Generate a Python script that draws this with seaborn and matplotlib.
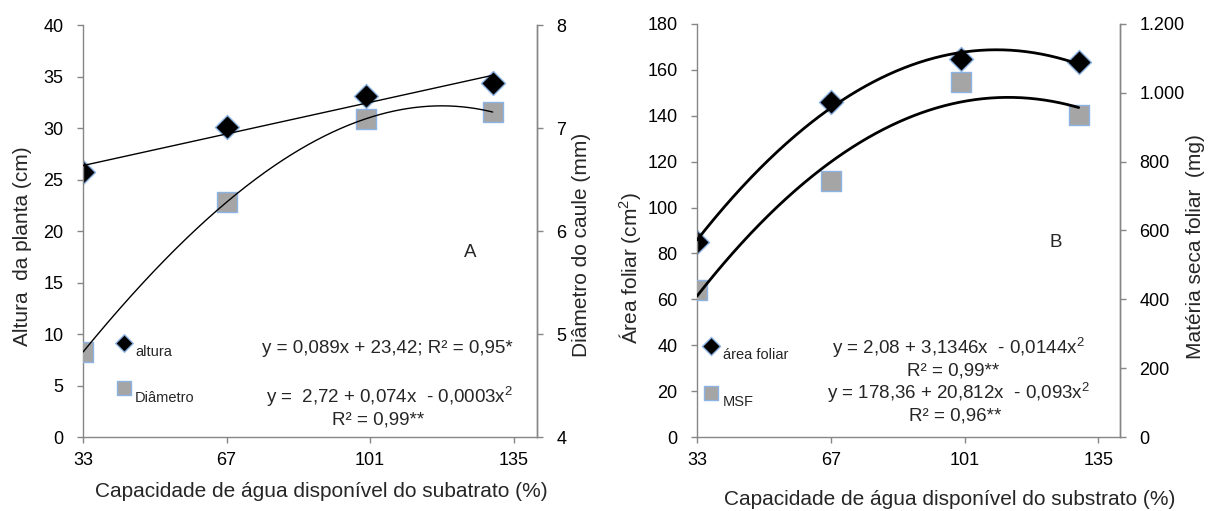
import numpy as np
import pandas as pd
import matplotlib
matplotlib.use("Agg")
import matplotlib.pyplot as plt
import seaborn as sns
from matplotlib.ticker import FuncFormatter

# ---------------- data ----------------
x_water = [33, 67, 100, 130]
altura = [25.7, 30.1, 33.1, 34.4]          # cm, left axis panel A
diametro = [4.825, 6.28, 7.09, 7.155]      # mm, right axis panel A
area_foliar = [85.0, 146.0, 164.8, 163.5]  # cm2, left axis panel B
msf = [427, 744, 1032, 936]                # mg, right axis panel B

x_ticks = [33, 67, 101, 135]
a_left_ticks = [0, 5, 10, 15, 20, 25, 30, 35, 40]
a_right_ticks = [4, 5, 6, 7, 8]
b_left_ticks = [0, 20, 40, 60, 80, 100, 120, 140, 160, 180]
b_right_ticks = [0, 200, 400, 600, 800, 1000, 1200]

# ---------------- style ----------------
sns.set_style("white")
plt.rcParams["font.family"] = ["Liberation Sans", "DejaVu Sans"]
plt.rcParams["mathtext.fontset"] = "custom"
plt.rcParams["mathtext.rm"] = "Liberation Sans"
plt.rcParams["mathtext.it"] = "Liberation Sans:italic"

GRAY_SPINE = "#868686"
EDGE_BLUE = "#8db3e2"
SQ_GRAY = "#a5a5a5"
FS_TICK = 13
FS_LAB = 15
FS_EQ = 13.5
FS_LEG = 10.5

W, H = 1208, 511


def fit_curve(x, y, deg):
    c = np.polyfit(x, y, deg)
    xs = np.linspace(min(x), max(x), 300)
    return pd.DataFrame({"x": xs, "y": np.polyval(c, xs)})


def style_axes(ax, ax2, xlim):
    ax.set_xlim(*xlim)
    for a in (ax, ax2):
        a.spines["top"].set_visible(False)
        for s in ("left", "right", "bottom"):
            a.spines[s].set_color(GRAY_SPINE)
            a.spines[s].set_linewidth(1.0)
        a.tick_params(axis="both", colors="black", labelsize=FS_TICK, length=4,
                      width=1, color=GRAY_SPINE, direction="out")
        a.grid(False)
    ax.tick_params(axis="y", pad=10, left=True)
    ax.tick_params(axis="x", pad=7, bottom=True)
    ax2.tick_params(axis="y", pad=10, right=True)
    ax2.spines["left"].set_visible(False)
    ax2.spines["bottom"].set_visible(False)


fig = plt.figure(figsize=(W / 100, H / 100), dpi=100)
axA = fig.add_axes([83 / W, 1 - 437 / H, 454 / W, 412 / H])
axA2 = axA.twinx()
axB = fig.add_axes([697 / W, 1 - 437 / H, 423 / W, 413 / H])
axB2 = axB.twinx()

xlim = (33, 140.5)

# ---------------- Panel A ----------------
fitA1 = fit_curve(x_water, altura, 1)
fitA2 = fit_curve(x_water, diametro, 3)

sns.scatterplot(x=x_water, y=altura, marker="D", s=150, color="black",
                edgecolor=EDGE_BLUE, linewidth=1, ax=axA, zorder=2, legend=False)
sns.lineplot(data=fitA1, x="x", y="y", color="black", lw=1.0, ax=axA, zorder=3)
sns.scatterplot(x=x_water, y=diametro, marker="s", s=200, color=SQ_GRAY,
                edgecolor=EDGE_BLUE, linewidth=1, ax=axA2, zorder=2, legend=False)
sns.lineplot(data=fitA2, x="x", y="y", color="black", lw=1.0, ax=axA2, zorder=3)

axA.set_ylim(0, 40)
axA.set_yticks(a_left_ticks)
axA2.set_ylim(4, 8)
axA2.set_yticks(a_right_ticks)
axA.set_xticks(x_ticks)
style_axes(axA, axA2, xlim)

axA.set_xlabel("Capacidade de água disponível do subatrato (%)", fontsize=FS_LAB)
axA.xaxis.set_label_coords(0.524, -0.11)
axA.set_ylabel("Altura  da planta (cm)", fontsize=FS_LAB)
axA.yaxis.set_label_coords(-0.112, 0.464)
axA2.set_ylabel("Diâmetro do caule (mm)", fontsize=FS_LAB)
axA2.yaxis.set_label_coords(1.077, 0.466)

# legend / annotations A
tA = axA.transAxes
axA.scatter([0.0903], [0.228], marker="D", s=80, color="black",
            edgecolor=EDGE_BLUE, linewidth=1, transform=tA, clip_on=False, zorder=5)
axA.text(0.1145, 0.206, "altura", fontsize=FS_LEG, transform=tA, va="center", ha="left")
axA.scatter([0.0903], [0.119], marker="s", s=100, color=SQ_GRAY,
            edgecolor=EDGE_BLUE, linewidth=1, transform=tA, clip_on=False, zorder=5)
axA.text(0.1145, 0.095, "Diâmetro", fontsize=FS_LEG, transform=tA, va="center", ha="left")
axA.text(0.947, 0.216, "y = 0,089x + 23,42; R² = 0,95*", fontsize=FS_EQ,
         transform=tA, va="center", ha="right")
axA.text(0.947, 0.097, r"y =  2,72 + 0,074x  - 0,0003x$^{\mathregular{2}}$",
         fontsize=FS_EQ, transform=tA, va="center", ha="right")
axA.text(0.65, 0.042, "R² = 0,99**", fontsize=FS_EQ, transform=tA,
         va="center", ha="center")
axA.text(0.852, 0.449, "A", fontsize=FS_EQ, transform=tA, va="center", ha="center")

# ---------------- Panel B ----------------
fitB1 = fit_curve(x_water, area_foliar, 2)
fitB2 = fit_curve(x_water, msf, 2)

sns.scatterplot(x=x_water, y=area_foliar, marker="D", s=150, color="black",
                edgecolor=EDGE_BLUE, linewidth=1, ax=axB, zorder=2, legend=False)
sns.lineplot(data=fitB1, x="x", y="y", color="black", lw=2.0, ax=axB, zorder=3)
sns.scatterplot(x=x_water, y=msf, marker="s", s=190, color=SQ_GRAY,
                edgecolor=EDGE_BLUE, linewidth=1, ax=axB2, zorder=2, legend=False)
sns.lineplot(data=fitB2, x="x", y="y", color="black", lw=2.0, ax=axB2, zorder=3)

axB.set_ylim(0, 180)
axB.set_yticks(b_left_ticks)
axB2.set_ylim(0, 1200)
axB2.set_yticks(b_right_ticks)
axB2.yaxis.set_major_formatter(
    FuncFormatter(lambda v, p: f"{int(v):,}".replace(",", ".")))
axB.set_xticks(x_ticks)
style_axes(axB, axB2, xlim)

axB.set_xlabel("Capacidade de água disponível do substrato (%)", fontsize=FS_LAB)
axB.xaxis.set_label_coords(0.598, -0.128)
axB.set_ylabel(r"Área foliar (cm$^{\mathregular{2}}$)", fontsize=FS_LAB)
axB.yaxis.set_label_coords(-0.128, 0.409)
axB2.set_ylabel("Matéria seca foliar  (mg)", fontsize=FS_LAB)
axB2.yaxis.set_label_coords(1.156, 0.462)

tB = axB.transAxes
axB.scatter([0.033], [0.220], marker="D", s=85, color="black",
            edgecolor=EDGE_BLUE, linewidth=1, transform=tB, clip_on=False, zorder=5)
axB.text(0.0615, 0.199, "área foliar", fontsize=FS_LEG, transform=tB, va="center", ha="left")
axB.scatter([0.033], [0.107], marker="s", s=110, color=SQ_GRAY,
            edgecolor=EDGE_BLUE, linewidth=1, transform=tB, clip_on=False, zorder=5)
axB.text(0.0615, 0.085, "MSF", fontsize=FS_LEG, transform=tB, va="center", ha="left")
axB.text(0.619, 0.215, r"y = 2,08 + 3,1346x  - 0,0144x$^{\mathregular{2}}$",
         fontsize=FS_EQ, transform=tB, va="center", ha="center")
axB.text(0.605, 0.160, "R² = 0,99**", fontsize=FS_EQ, transform=tB,
         va="center", ha="center")
axB.text(0.619, 0.1065, r"y = 178,36 + 20,812x  - 0,093x$^{\mathregular{2}}$",
         fontsize=FS_EQ, transform=tB, va="center", ha="center")
axB.text(0.61, 0.050, "R² = 0,96**", fontsize=FS_EQ, transform=tB,
         va="center", ha="center")
axB.text(0.849, 0.47, "B", fontsize=FS_EQ, transform=tB, va="center", ha="center")

fig.savefig("out.png", dpi=100)
